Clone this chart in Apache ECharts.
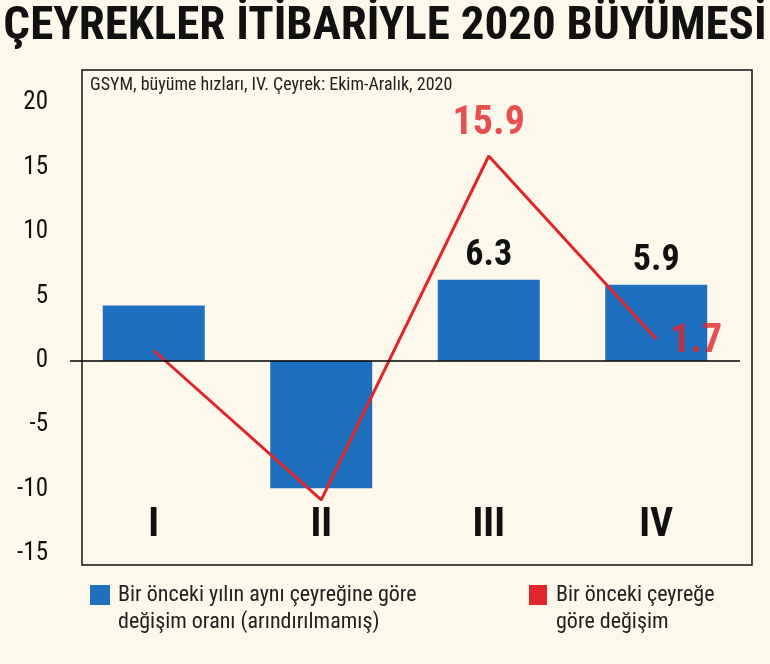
<!DOCTYPE html>
<html><head><meta charset="utf-8">
<script src="https://cdn.jsdelivr.net/npm/echarts@6/dist/echarts.min.js"></script>
<style>html,body{margin:0;padding:0;background:#fdf8ec}#c{width:770px;height:664px}</style>
</head><body><div id="c"></div>
<script>
var categories = ['I','II','III','IV'];
var yoyValues = [4.3, -9.9, 6.3, 5.9];
var yoyLabels = ['', '', '6.3', '5.9'];
var qoqValues = [0.8, -10.8, 15.9, 1.7];
var qoqLabels = ['', '', '15.9', '1.7'];
var yTicks = [-15,-10,-5,0,5,10,15,20];
var F = "'Liberation Sans Narrow','Roboto Condensed','Liberation Sans',sans-serif";
var chart = echarts.init(document.getElementById('c'));
chart.setOption({
  backgroundColor:'#fdf8ec',
  animation:false,
  grid:{left:70,right:30,top:71,bottom:110},
  xAxis:{type:'category',data:categories,axisLine:{show:false},axisTick:{show:false},
    axisLabel:{inside:true,margin:8,fontFamily:F,fontWeight:'bold',fontSize:40,color:'#111'}},
  yAxis:{type:'value',min:-15,max:22.5,interval:5,splitLine:{show:false},
    axisLine:{show:false},axisTick:{show:false},
    axisLabel:{margin:22,fontFamily:F,fontSize:25,color:'#111',
      formatter:function(v){return yTicks.indexOf(v)>=0?String(v):'';}}},
  series:[
    {type:'bar',data:yoyValues,barWidth:102,itemStyle:{color:'#1f6fbf'},
      label:{show:true,position:'top',distance:6,fontFamily:F,fontWeight:'bold',fontSize:36,color:'#111',
        formatter:function(p){return yoyLabels[p.dataIndex];}},
      markLine:{silent:true,symbol:'none',label:{show:false},lineStyle:{color:'#000',width:1.5,type:'solid'},data:[{yAxis:0}]}},
    {type:'line',data:qoqValues,symbol:'none',lineStyle:{color:'#e0262b',width:3}},
    {type:'scatter',data:qoqValues,symbolSize:1,itemStyle:{color:'rgba(0,0,0,0)'},z:5,
      label:{show:true,position:'top',distance:12,fontFamily:F,fontWeight:'bold',fontSize:40,color:'#e0262b',
        formatter:function(p){return qoqLabels[p.dataIndex];}},
      labelLayout:function(p){ if(p.dataIndex===3){return {dx:40,dy:36};} return {}; }}
  ],
  graphic:[
    {type:'rect',shape:{x:82,y:70,width:670,height:495},style:{fill:'none',stroke:'#111',lineWidth:1.5},z:-1},
    {type:'text',left:'center',top:4,style:{text:'ÇEYREKLER İTİBARİYLE 2020 BÜYÜMESİ',fontFamily:F,fontWeight:'bold',fontSize:47,fill:'#111'}},
    {type:'text',x:90,y:76,style:{text:'GSYM, büyüme hızları, IV. Çeyrek: Ekim-Aralık, 2020',fontFamily:F,fontSize:18,fill:'#222'}},
    {type:'rect',shape:{x:90,y:585,width:20,height:20},style:{fill:'#1f6fbf'}},
    {type:'text',x:118,y:582,style:{text:'Bir önceki yılın aynı çeyreğine göre\ndeğişim oranı (arındırılmamış)',fontFamily:F,fontSize:22,lineHeight:27,fill:'#222'}},
    {type:'rect',shape:{x:529,y:585,width:18,height:20},style:{fill:'#e0262b'}},
    {type:'text',x:556,y:582,style:{text:'Bir önceki çeyreğe\ngöre değişim',fontFamily:F,fontSize:22,lineHeight:27,fill:'#222'}}
  ]
});
</script></body></html>
